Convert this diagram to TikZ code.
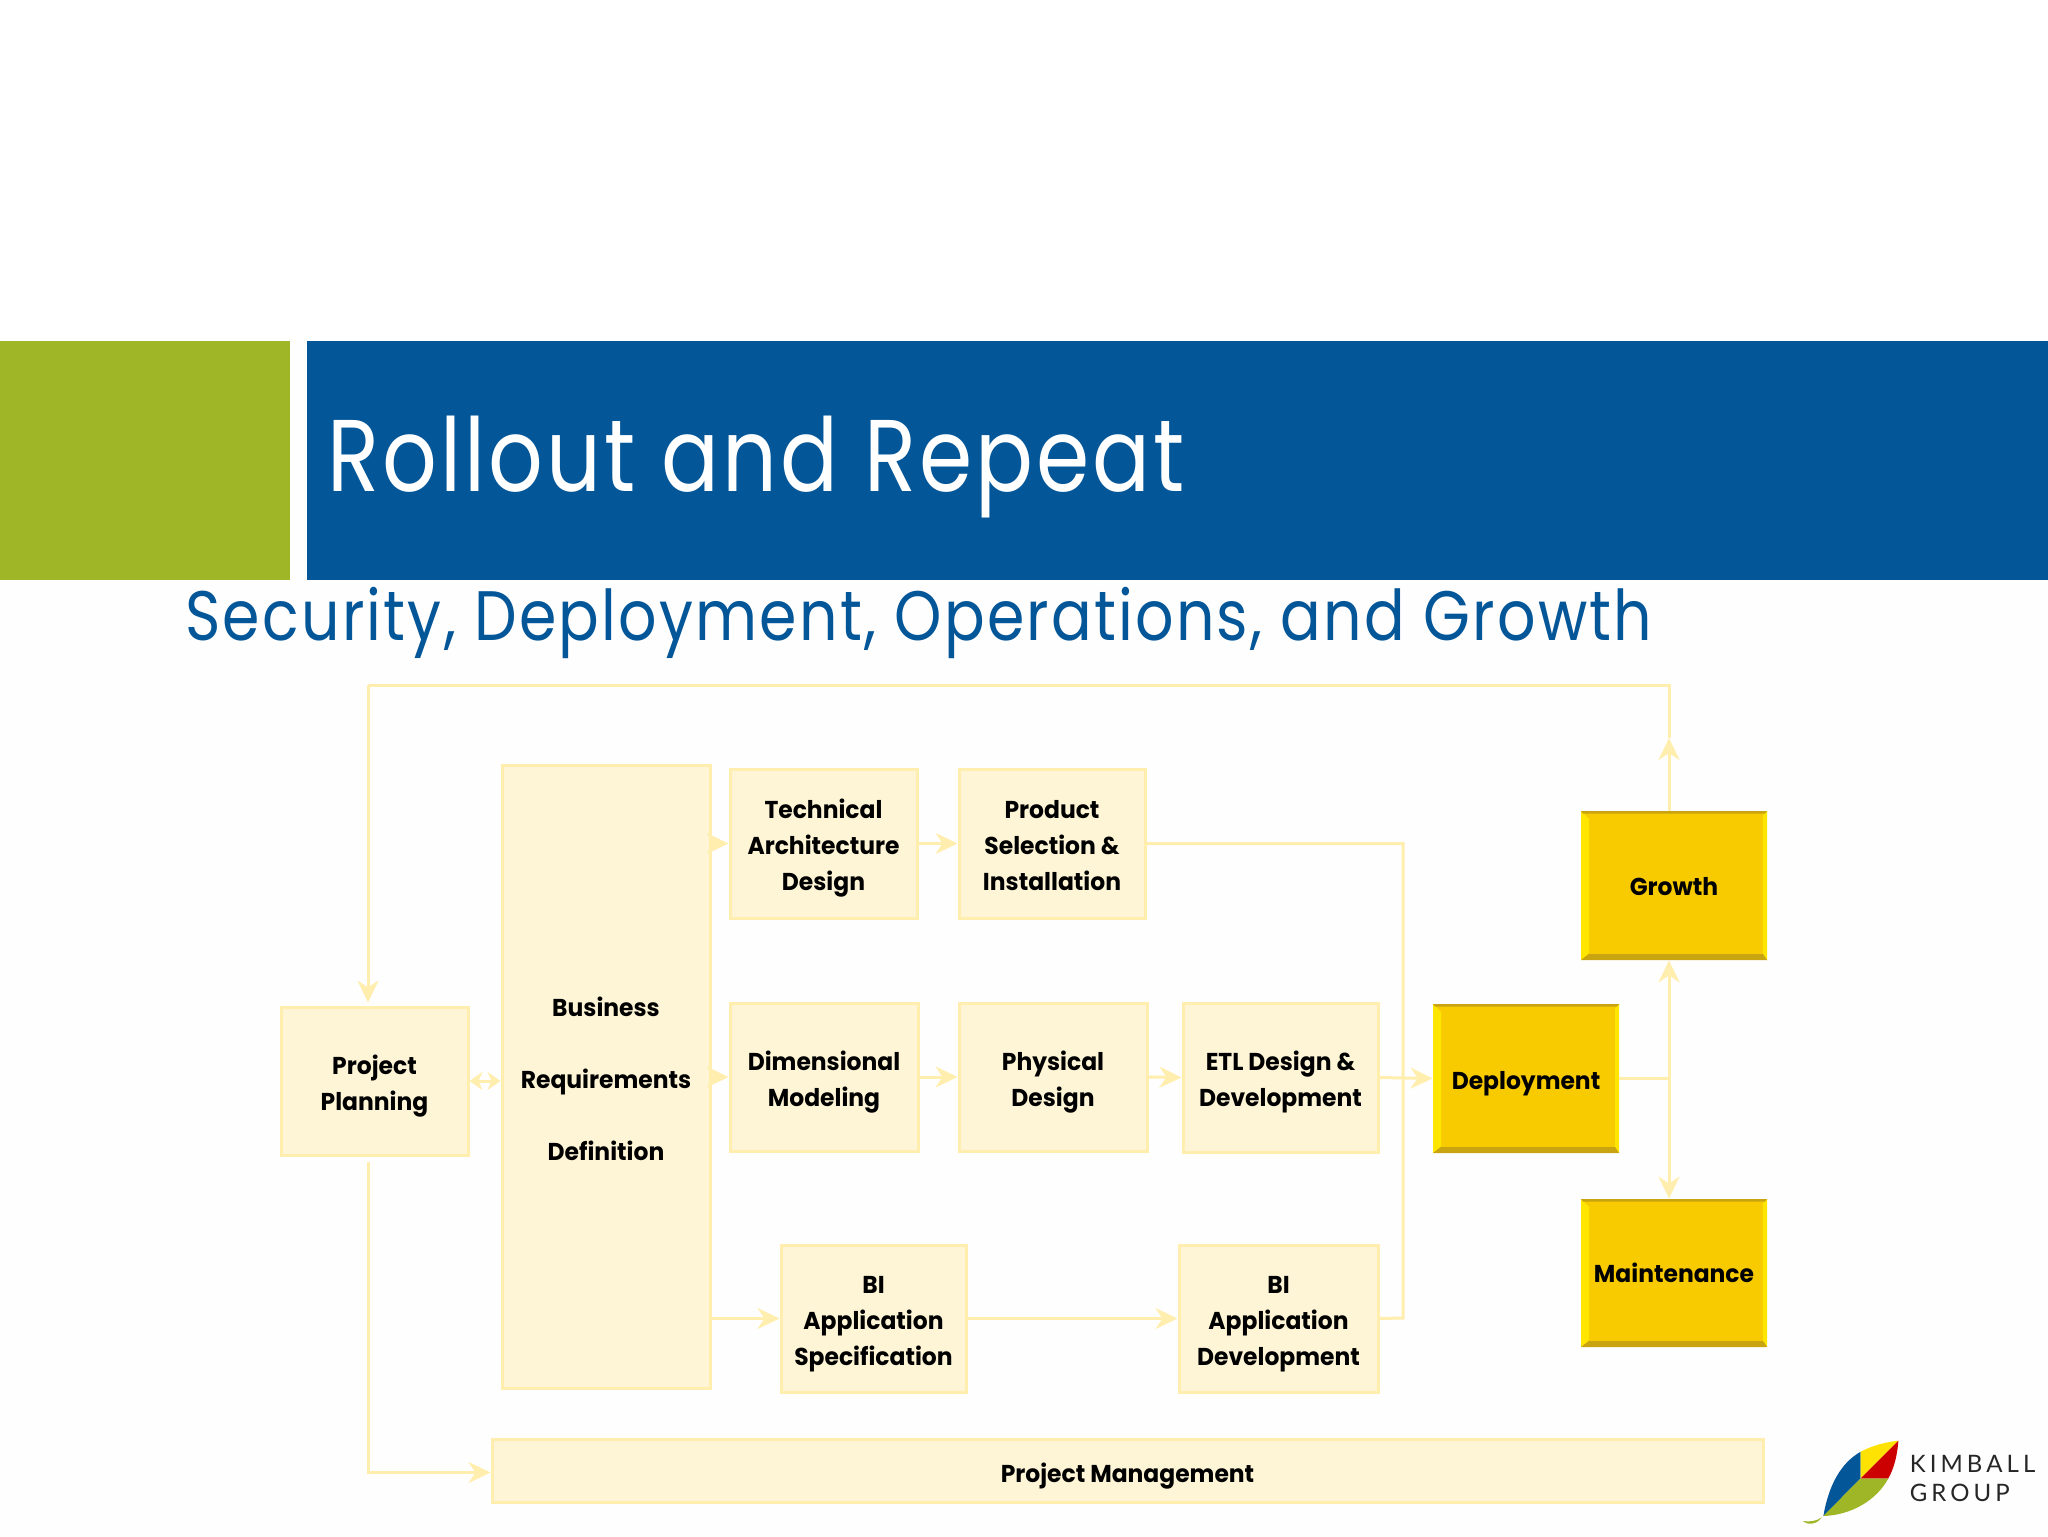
\documentclass[tikz,border=0pt]{standalone}
\usepackage{fontspec}
\usetikzlibrary{arrows.meta,calc}
\setmainfont{Poppins}
\newfontfamily\ttlfont[FakeStretch=0.84,LetterSpace=3]{Poppins}
\newfontfamily\subfont[FakeStretch=0.86,LetterSpace=3.2]{Poppins}
\newfontfamily\boxfont[FakeStretch=0.96]{Poppins}
\newfontfamily\logofont[LetterSpace=17]{Lato}
\definecolor{hblue}{HTML}{035698}
\definecolor{hgreen}{HTML}{9FB627}
\definecolor{pagebg}{HTML}{FFFEFE}
\definecolor{boxfill}{HTML}{FDF5D5}
\definecolor{boxline}{HTML}{FFEEAE}
\definecolor{gold}{HTML}{F8CB00}
\definecolor{goldhi}{HTML}{FFE600}
\definecolor{goldlo}{HTML}{C8A410}
\tikzset{
  x=0.5pt,y=-0.5pt,
  paleline/.style={draw=boxline,line width=1.5pt},
  paletip/.style={paleline,-{Stealth[length=11pt,width=10.5pt,inset=3.5pt,color=boxline]}},
  lightbox/.style={rectangle,draw=boxline,line width=1.5pt,fill=boxfill,inner sep=0pt,
     font=\boxfont\bfseries\fontsize{12.2}{18}\selectfont,text=black},
  goldbox/.style={rectangle,fill=gold,inner sep=0pt},
}
\newcommand\shifted[2]{\raisebox{-#1}[\height][\depth]{\begin{tabular}{@{}c@{}}#2\end{tabular}}}
% name, x1, y1, x2, y2, text
\newcommand\lbx[7][2pt]{\node[lightbox,minimum width={(#5-#3)*0.5pt},minimum height={(#6-#4)*0.5pt}] (#2) at ({(#3+#5)/2},{(#4+#6)/2}) {\shifted{#1}{#7}};}
\newcommand\gbx[7][1pt]{%
  \node[goldbox,minimum width={(#5-#3)*0.5pt},minimum height={(#6-#4)*0.5pt}] (#2) at ({(#3+#5)/2},{(#4+#6)/2}) {};
  \fill[goldhi] (#3,#4) -- (#3+8,#4+8) -- (#3+8,#6-7) -- (#3,#6) -- cycle;
  \fill[goldhi] (#5,#4) -- (#5-4,#4+4) -- (#5-4,#6-6) -- (#5,#6) -- cycle;
  \fill[goldlo] (#3,#6) -- (#3+8,#6-6) -- (#5-4,#6-6) -- (#5,#6) -- cycle;
  \fill[goldlo] (#3,#4) -- (#3+2,#4+2.5) -- (#5-2,#4+2.5) -- (#5,#4) -- cycle;
  \node[font=\boxfont\bfseries\fontsize{12.2}{18}\selectfont,text=black,inner sep=0pt] (#2text) at (#2.center) {\shifted{#1}{#7}};
}
\begin{document}
\begin{tikzpicture}
\useasboundingbox (0,0) rectangle (2048,1536);
\fill[pagebg] (0,0) rectangle (2048,1536);
\fill[white] (0,0) rectangle (2048,341);
% header
\fill[hgreen] (0,341) rectangle (290,580);
\fill[hblue] (307,341) rectangle (2048,580);
\node[anchor=base west,inner sep=0pt,text=white,font=\ttlfont\fontsize{51}{60}\selectfont] (title) at (327,491) {Rollout and Repeat};
\node[anchor=base west,inner sep=0pt,text=hblue,font=\subfont\fontsize{35}{40}\selectfont] (subtitle) at (185,640) {Security, Deployment, Operations, and Growth};
% boxes
\lbx{pp}{281}{1007}{468}{1155}{Project\\Planning}
\lbx[2.2pt]{brd}{502}{765}{710}{1388}{Business\\[18pt]Requirements\\[18pt]Definition}
\lbx{tech}{730}{769}{917}{918}{Technical\\Architecture\\Design}
\lbx{prod}{959}{769}{1145}{918}{Product\\Selection \&\\Installation}
\lbx{dim}{730}{1003}{918}{1151}{Dimensional\\Modeling}
\lbx{phys}{959}{1003}{1147}{1151}{Physical\\Design}
\lbx{etl}{1183}{1003}{1378}{1152}{ETL Design \&\\Development}
\lbx{bispec}{781}{1245}{966}{1392}{BI\\Application\\Specification}
\lbx{bidev}{1179}{1245}{1378}{1392}{BI\\Application\\Development}
\lbx[2.5pt]{pm}{492}{1439}{1763}{1502}{Project Management}
\gbx[2pt]{dep}{1433}{1004}{1619}{1153}{Deployment}
\gbx[1.2pt]{growth}{1581}{811}{1767}{960}{Growth}
\gbx[1.3pt]{maint}{1581}{1199}{1767}{1347}{Maintenance}
% helper points
\coordinate (gx) at (1669,738);
\coordinate (tl) at (368,685);
\coordinate (busr) at (1403,1318);
% connectors
\draw[paletip] (gx |- growth.north) -- (gx);
\draw[paleline] (gx) |- (tl);
\draw[paletip,shorten >=1.5pt] (tl) -- (tl |- pp.north);
\draw[paletip,shorten <=2.5pt] (tl |- pp.south) |- ($(pm.west)+(0,2)$);
\draw[paleline,{Stealth[length=6.5pt,width=9pt,inset=2pt,color=boxline]}-{Stealth[length=6.5pt,width=9pt,inset=2pt,color=boxline]}] (pp.east) -- (pp.east -| brd.west);
\draw[paletip] (brd.east |- tech.west) -- (tech.west);
\draw[paletip] (tech.east) -- (prod.west);
\draw[paleline] (prod.east) -| (busr) -- (bidev.east);
\draw[paletip] (brd.east |- dim.west) -- (dim.west);
\draw[paletip] (dim.east) -- (phys.west);
\draw[paletip] (phys.east) -- (etl.west);
\draw[paletip] (etl.east) -- (dep.west);
\draw[paleline] (dep.east) -- (dep.east -| gx);
\draw[paletip] (dep.east -| gx) -- (gx |- growth.south);
\draw[paletip] (dep.east -| gx) -- (gx |- maint.north);
\draw[paletip] (brd.east |- bispec.west) -- (bispec.west);
\draw[paletip] (bispec.east) -- (bidev.west);
% logo
\begin{scope}[shift={(1780,1420)},x=0.1667pt,y=-0.1667pt]
\fill[hblue] (242,95) .. controls (180,130) and (145,200) .. (130,288) -- (242,175) -- cycle;
\fill[hgreen] (130,288) .. controls (215,285) and (290,240) .. (325,175) -- (242,175) -- cycle;
\fill[hgreen] (125,292) .. controls (110,303) and (90,306) .. (68,303) .. controls (80,315) and (110,315) .. (125,292) -- cycle;
\fill[yellow!85!orange] (242,95) .. controls (280,75) and (320,66) .. (355,62) -- (242,175) -- cycle;
\fill[red!80!black] (355,62) .. controls (352,105) and (342,145) .. (325,175) -- (242,175) -- cycle;
\node[anchor=base west,inner sep=0pt,text=black!85,font=\logofont\fontsize{12}{12}\selectfont] (kim) at (388,158) {KIMBALL};
\node[anchor=base west,inner sep=0pt,text=black!85,font=\logofont\fontsize{12}{12}\selectfont] (grp) at (388,243) {GROUP};
\end{scope}
\end{tikzpicture}
\end{document}
